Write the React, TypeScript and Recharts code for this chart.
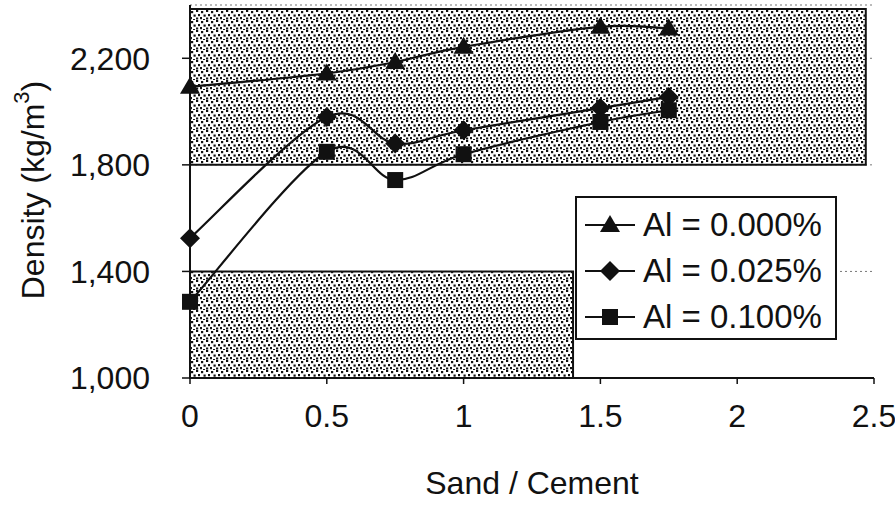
import React from "react"
import {
  LineChart,
  Line,
  XAxis,
  YAxis,
  CartesianGrid,
  ReferenceArea,
  Legend,
  Label,
} from "recharts"

// Sand / Cement ratio
const sandCement = [0, 0.5, 0.75, 1, 1.5, 1.75]
// density (kg/m3) per Al content
const al000 = [2093, 2143, 2186, 2243, 2318, 2312]
const al025 = [1525, 1980, 1880, 1930, 2013, 2055]
const al100 = [1286, 1849, 1743, 1840, 1961, 2005]

const xTicks = [0, 0.5, 1, 1.5, 2, 2.5]
const yTicks = [1000, 1400, 1800, 2200]

const seriesNames = ["Al = 0.000%", "Al = 0.025%", "Al = 0.100%"]
const markerKinds = ["triangle", "diamond", "square"]

const data = sandCement.map((x, i) => ({
  x,
  a0: al000[i],
  a1: al025[i],
  a2: al100[i],
}))

const FONT = "'Liberation Sans', Arial, sans-serif"

// spreadsheet-style smoothed line (cardinal bezier, tension 1/6)
const smoothCurve = (context: any) => {
  let pts: number[][] = []
  return {
    areaStart() {},
    areaEnd() {},
    lineStart() {
      pts = []
    },
    point(x: number, y: number) {
      pts.push([+x, +y])
    },
    lineEnd() {
      if (!pts.length) return
      context.moveTo(pts[0][0], pts[0][1])
      for (let i = 0; i < pts.length - 1; i++) {
        const p0 = pts[i - 1] || pts[i]
        const p1 = pts[i]
        const p2 = pts[i + 1]
        const p3 = pts[i + 2] || p2
        context.bezierCurveTo(
          p1[0] + (p2[0] - p0[0]) / 6,
          p1[1] + (p2[1] - p0[1]) / 6,
          p2[0] - (p3[0] - p1[0]) / 6,
          p2[1] - (p3[1] - p1[1]) / 6,
          p2[0],
          p2[1]
        )
      }
    },
  }
}

function markerPath(kind: string, cx: number, cy: number) {
  if (kind === "triangle") {
    return `M${cx},${cy - 10} L${cx + 10},${cy + 7} L${cx - 10},${cy + 7} Z`
  }
  if (kind === "diamond") {
    return `M${cx},${cy - 10} L${cx + 10},${cy} L${cx},${cy + 10} L${cx - 10},${cy} Z`
  }
  return `M${cx - 8},${cy - 8} H${cx + 8} V${cy + 8} H${cx - 8} Z`
}

const makeDot = (kind: string) => (props: any) => {
  const { cx, cy, index } = props
  if (cx == null || cy == null) return <g key={`d-${kind}-${index}`} />
  return <path key={`d-${kind}-${index}`} d={markerPath(kind, cx, cy)} fill="#111" stroke="none" />
}

const LegendBox = () => (
  <div
    style={{
      width: 258,
      height: 140,
      border: "2px solid #111",
      background: "#fff",
      fontFamily: FONT,
      fontSize: 33,
      color: "#111",
      boxSizing: "content-box",
    }}
  >
    {seriesNames.map((name, i) => (
      <div key={name} style={{ height: 46, display: "flex", alignItems: "center", marginTop: i === 0 ? 4 : 0 }}>
        <svg width={60} height={30} style={{ marginLeft: 6 }}>
          <line x1={2} y1={15} x2={52} y2={15} stroke="#111" strokeWidth={2.2} />
          <path d={markerPath(markerKinds[i], 27, 15)} fill="#111" />
        </svg>
        <span>{name}</span>
      </div>
    ))}
  </div>
)

const YLabel = () => (
  <text
    x={33}
    y={190}
    transform="rotate(-90, 33, 190)"
    textAnchor="middle"
    dominantBaseline="central"
    fontFamily={FONT}
    fontSize={32}
    fill="#111"
  >
    Density (kg/m
    <tspan dy={-12} fontSize={22}>3</tspan>
    <tspan dy={12}>)</tspan>
  </text>
)

export default function App() {
  return (
    <div style={{ position: "absolute", left: 0, top: 0, width: 895, height: 506, background: "#fff" }}>
      <LineChart width={895} height={506} data={data} margin={{ top: 5, right: 21, left: 0, bottom: 0 }}>
        <defs>
          <pattern id="stipple" width={10} height={10} patternUnits="userSpaceOnUse">
            <rect width={10} height={10} fill="#fff" />
            <rect x={1} y={1} width={2.2} height={2.2} fill="#111" />
            <rect x={6} y={0} width={2.2} height={2} fill="#111" />
            <rect x={8} y={4} width={2} height={2.2} fill="#111" />
            <rect x={3.5} y={4.5} width={2.2} height={2.2} fill="#111" />
            <rect x={6} y={7.5} width={2.2} height={2} fill="#111" />
            <rect x={0} y={7} width={2} height={2.2} fill="#111" />
            <rect x={3} y={9} width={2} height={1} fill="#111" />
          </pattern>
        </defs>
        <CartesianGrid vertical={false} stroke="#777" strokeDasharray="2 3" />
        <ReferenceArea
          x1={0}
          x2={2.47}
          y1={1800}
          y2={2385}
          fill="url(#stipple)"
          fillOpacity={1}
          stroke="#111"
          strokeWidth={2}
        />
        <ReferenceArea
          x1={0}
          x2={1.4}
          y1={1000}
          y2={1400}
          fill="url(#stipple)"
          fillOpacity={1}
          stroke="#111"
          strokeWidth={2}
        />
        <XAxis
          dataKey="x"
          type="number"
          domain={[0, 2.5]}
          ticks={xTicks}
          tickFormatter={(v: number) => String(v)}
          height={128}
          tickSize={6}
          tickMargin={20}
          axisLine={{ stroke: "#111", strokeWidth: 2 }}
          tickLine={{ stroke: "#111", strokeWidth: 1.5 }}
          tick={{ fill: "#111", fontSize: 32, fontFamily: FONT }}
          interval={0}
        >
          <Label value="Sand / Cement" position="insideBottom" offset={12} fill="#111" fontSize={32} fontFamily={FONT} />
        </XAxis>
        <YAxis
          domain={[1000, 2400]}
          ticks={yTicks}
          tickFormatter={(v: number) => v.toLocaleString("en-US")}
          width={190}
          tickSize={8}
          tickMargin={32}
          axisLine={{ stroke: "#111", strokeWidth: 2 }}
          tickLine={{ stroke: "#111", strokeWidth: 1.5 }}
          tick={{ fill: "#111", fontSize: 32, fontFamily: FONT }}
          interval={0}
        >
          <Label content={<YLabel />} />
        </YAxis>
        <Legend
          layout="vertical"
          align="center"
          verticalAlign="middle"
          content={<LegendBox />}
          wrapperStyle={{ left: 575, top: 196, width: 262 }}
        />
        <Line type={smoothCurve as any} dataKey="a0" name={seriesNames[0]} stroke="#111" strokeWidth={2.2} dot={makeDot("triangle")} activeDot={false} isAnimationActive={false} />
        <Line type={smoothCurve as any} dataKey="a1" name={seriesNames[1]} stroke="#111" strokeWidth={2.2} dot={makeDot("diamond")} activeDot={false} isAnimationActive={false} />
        <Line type={smoothCurve as any} dataKey="a2" name={seriesNames[2]} stroke="#111" strokeWidth={2.2} dot={makeDot("square")} activeDot={false} isAnimationActive={false} />
      </LineChart>
    </div>
  )
}
